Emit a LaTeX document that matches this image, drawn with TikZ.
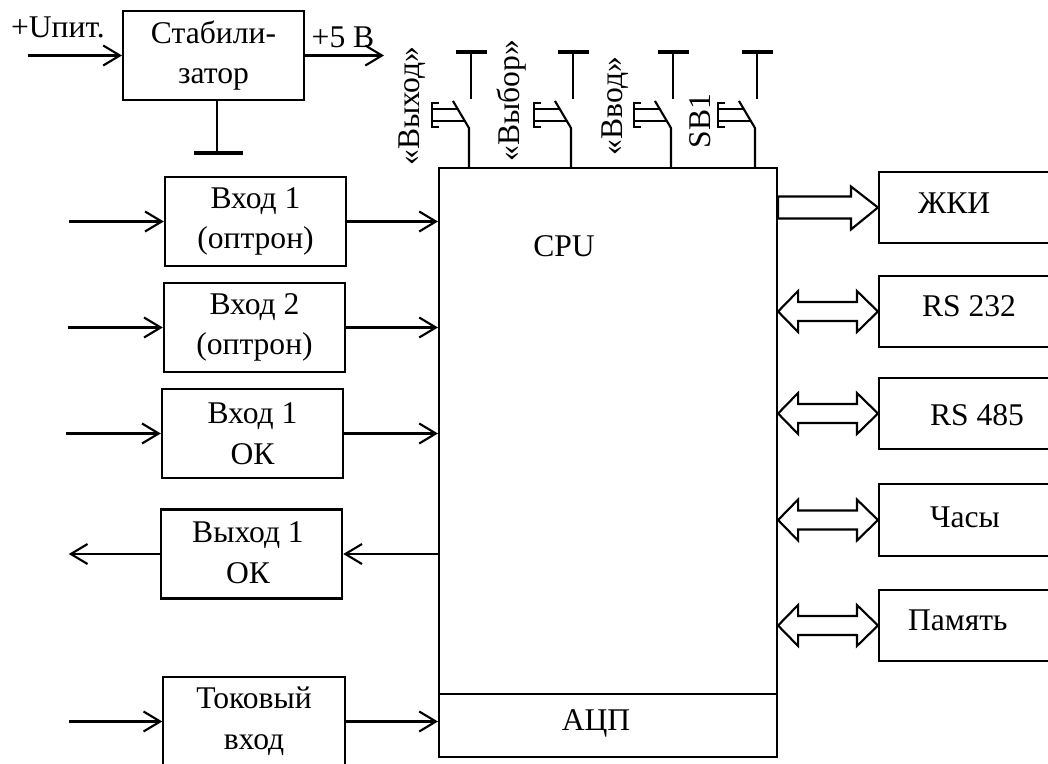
\documentclass[tikz,border=0pt]{standalone}
\usepackage{fontspec}
\setmainfont{Liberation Serif}
\usetikzlibrary{positioning,calc,arrows.meta}

\tikzset{
  blockbox/.style={draw,rectangle,inner sep=0pt,align=center,minimum width=136pt,minimum height=66.75pt},
  portbox/.style={draw,rectangle,inner sep=0pt,minimum width=135.75pt,minimum height=53.75pt},
  caption/.style={inner sep=0pt,align=center},
  earthbar/.style={line width=3pt},
  busout/.style={fill=white,to path={(\tikztostart) -- ++(0,-11) -- ($(\tikztotarget)+(-27,-11)$) -- ++(0,-10)
      -- (\tikztotarget) -- ++(-27,22) -- ++(0,-11) -- ($(\tikztostart)+(0,11)$) -- cycle}},
  busboth/.style={fill=white,to path={(\tikztostart) -- ++(20,-20.5) -- ++(0,11) -- ($(\tikztotarget)+(-21,-9.5)$)
      -- ++(0,-11) -- (\tikztotarget) -- ++(-21,20.5) -- ++(0,-11) -- ($(\tikztostart)+(20,9.5)$) -- ++(0,11) -- cycle}},
  pics/pushkey/.style={code={
      \draw (0,0) -- (0,-39) -- (-16,-66);
      \draw (2,-68) -- (2,-115);
      \draw[earthbar] (-13,-115) -- (18,-115);
      \draw[line width=1pt] (-30,-64) -- (-37,-64) -- (-37,-40) -- (-30,-40);
      \draw[line width=1pt] (-37,-58) -- (-11,-58);
      \draw[line width=1pt] (-37,-46) -- (-4,-46);
  }}
}

\begin{document}
\begin{tikzpicture}[x=.75pt,y=-.75pt,on grid,line width=1.6pt,
    >={Straight Barb[length=12.5pt,width=15pt]},
    every node/.append style={font=\fontsize{23.7}{30.5}\selectfont}]
   \useasboundingbox (0,0) rectangle (1048,763);

   \node[draw,rectangle,inner sep=0pt,minimum width=253.5pt,minimum height=441.75pt] (cpu) at (608,462.5) {};
   \node[blockbox,minimum width=135.75pt] (stab) at (213.5,55.5) {Стабили-\\затор};
   \node[blockbox] (in_1) at (255.5,221.5) {Вход 1\\(оптрон)};
   \node[blockbox] (in_2) [below=79.5pt of in_1,xshift=-.75pt] {Вход 2\\(оптрон)};
   \node[blockbox] (in_3) [below=79.5pt of in_2,xshift=-1.5pt] {Вход 1\\ОК};
   \node[blockbox] (out_1) at (251.5,554) {};
   \node[blockbox] (in_4) at (254,721.5) {Токовый\\вход};

   \node[portbox] (lcd) at (969.5,207.5) {};
   \node[portbox] (rs_1) [below=78pt of lcd] {};
   \node[portbox] (rs_2) [below=76.5pt of rs_1] {};
   \node[portbox] (clock) [below=79.9pt of rs_2] {};
   \node[portbox] (mem) [below=79.1pt of clock] {};

   % texts of these boxes sit off centre
   \node[caption] (out_1_t) at (248,553) {Выход 1\\ОК};
   \node[caption] (lcd_t) [right=29.25pt of lcd.west,yshift=3pt] {ЖКИ};
   \node[caption] (rs_1_t) [right=32.25pt of rs_1.west,yshift=3.75pt] {RS 232};
   \node[caption] (rs_2_t) [right=38.25pt of rs_2.west,yshift=-1.5pt] {RS 485};
   \node[caption] (clock_t) [right=38.25pt of clock.west,yshift=2.25pt] {Часы};
   \node[caption] (mem_t) [right=21.75pt of mem.west,yshift=3.75pt] {Память};

   \node[caption] (cpu_t) at (564,246) {CPU};
   \coordinate[above=48pt of cpu.south] (adc_top);
   \node[caption] (adc) at (596,723) {АЦП};
   \draw[line width=1pt] (adc_top -| cpu.west) -- (adc_top -| cpu.east);

   \node[caption] (pow_t) at (58,27) {+Uпит.};
   \node[caption] (five_t) at (343,37) {+5 В};
   \node[caption,rotate=90] (key_1_t) at (412,106) {«Выход»};
   \node[caption,rotate=90] (key_2_t) at (512,101) {«Выбор»};
   \node[caption,rotate=90] (key_3_t) at (615,106) {«Ввод»};
   \node[caption,rotate=90] (key_4_t) at (700,121) {SB1};

   \coordinate[left=70.5pt of stab.west] (pow);
   \coordinate[right=59.25pt of stab.east] (five);
   \coordinate[left=71.25pt of in_1.west] (in_1_a);
   \coordinate[left=71.25pt of in_2.west] (in_2_a);
   \coordinate[left=71.25pt of in_3.west] (in_3_a);
   \coordinate[left=68.25pt of out_1.west] (out_1_a);
   \coordinate[left=69.75pt of in_4.west] (in_4_a);
   \coordinate (gnd_a) at (217,100);
   \coordinate[below=39.75pt of gnd_a] (gnd);

   \path[->]
    (pow) edge (stab.west)
    (stab.east) edge (five)

    (in_1_a) edge (in_1.west)
    (in_1.east) edge (in_1 -| cpu.west)
    (in_2_a) edge (in_2.west)
    (in_2.east) edge (in_2 -| cpu.west)
    (in_3_a) edge (in_3.west)
    (in_3.east) edge (in_3 -| cpu.west)

    (out_1 -| cpu.west) edge (out_1.east)
    (out_1.west) edge (out_1_a)

    (in_4_a) edge (in_4.west)
    (in_4.east) edge (in_4 -| cpu.west)
    ;

   \draw (gnd_a) -- (gnd);
   \draw[earthbar] ($(gnd)+(-23,0)$) -- ($(gnd)+(26,0)$);

   \draw (lcd -| cpu.east) to[busout] (lcd.west);
   \draw (rs_1 -| cpu.east) to[busboth] (rs_1.west);
   \draw (rs_2 -| cpu.east) to[busboth] (rs_2.west);
   \draw (clock -| cpu.east) to[busboth] (clock.west);
   \draw (mem -| cpu.east) to[busboth] (mem.west);

   \coordinate[right=23.25pt of cpu.north west] (key_1);
   \coordinate[right=99.75pt of cpu.north west] (key_2);
   \coordinate[right=174.75pt of cpu.north west] (key_3);
   \coordinate[right=237.75pt of cpu.north west] (key_4);
   \pic at (key_1) {pushkey};
   \pic at (key_2) {pushkey};
   \pic at (key_3) {pushkey};
   \pic at (key_4) {pushkey};
\end{tikzpicture}
\end{document}
